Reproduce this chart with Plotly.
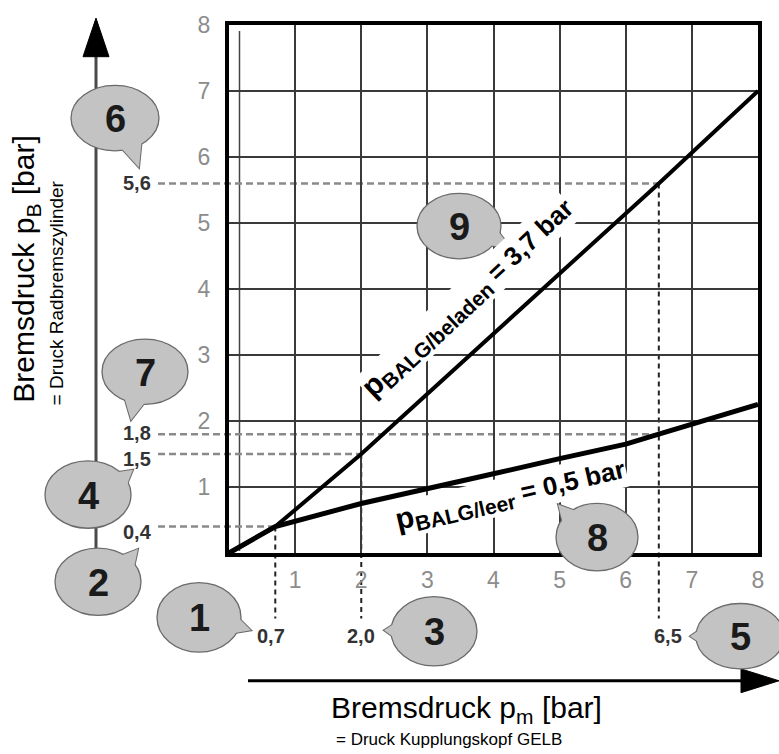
import math
import plotly.graph_objects as go

# ---------------- data ----------------
x_beladen = [0.0, 0.7, 2.0, 6.5, 8.0]
y_beladen = [0.0, 0.4, 1.5, 5.6, 7.0]
x_leer = [0.0, 0.7, 2.0, 3.0, 4.0, 5.0, 6.0, 6.5, 7.0, 8.0]
y_leer = [0.0, 0.4, 0.75, 0.97, 1.2, 1.43, 1.65, 1.8, 1.95, 2.25]
tick_vals = [1, 2, 3, 4, 5, 6, 7, 8]
tick_text = ["1", "2", "3", "4", "5", "6", "7", "8"]
# reading values on the pm axis (vertical dashed lines)
read_pm = [0.7, 2.0, 6.5]
read_pm_text = ["0,7", "2,0", "6,5"]
read_pm_pb = [0.4, 1.5, 5.6]
# reading values on the pB axis (horizontal dashed lines)
read_pb = [5.6, 1.8, 1.5, 0.4]
read_pb_text = ["5,6", "1,8", "1,5", "0,4"]
read_pb_pm = [6.5, 6.5, 2.0, 0.7]
label_beladen = ("<span style='font-size:30px'>p</span><sub><span style='font-size:21px'>BALG/beladen</span></sub>"
                 " = 3,7 bar")
label_leer = ("<span style='font-size:30px'>p</span><sub><span style='font-size:21px'>BALG/leer</span></sub>"
              " = 0,5 bar")

# ---------------- layout helpers ----------------
W, H = 779, 754
ML, MR, MT, MB = 229, 21, 20, 201
PW, PH = W - ML - MR, H - MT - MB
XR, YR = [0, 8], [0, 8]
FONT = "Arial, Liberation Sans, sans-serif"


def fx(v):
    return (v - XR[0]) / (XR[1] - XR[0])


def fy(v):
    return (v - YR[0]) / (YR[1] - YR[0])


def px(p):
    return (p - ML) / PW


def py(p):
    return (H - MB - p) / PH


fig = go.Figure()
fig.add_trace(go.Scatter(x=x_beladen, y=y_beladen, mode="lines",
                         line=dict(color="black", width=4), hoverinfo="skip"))
fig.add_trace(go.Scatter(x=x_leer, y=y_leer, mode="lines",
                         line=dict(color="black", width=5), hoverinfo="skip"))

shapes = []
# thin inner line next to the left frame
shapes.append(dict(type="line", xref="paper", yref="paper", x0=px(239.5), x1=px(239.5),
                   y0=py(551), y1=py(26), line=dict(color="#444", width=1.5), layer="below"))
# dashed reading lines
for yv, xe in zip(read_pb, read_pb_pm):
    shapes.append(dict(type="line", xref="paper", yref="paper", x0=px(158), x1=fx(xe),
                       y0=fy(yv), y1=fy(yv), layer="below",
                       line=dict(color="#8a8a8a", width=2.5, dash="7px,4px")))
for xv, ys in zip(read_pm, read_pm_pb):
    shapes.append(dict(type="line", xref="paper", yref="paper", x0=fx(xv), x1=fx(xv),
                       y0=fy(ys), y1=py(619), layer="below",
                       line=dict(color="#222", width=2, dash="5px,4px")))
# left (vertical) axis arrow
shapes.append(dict(type="line", xref="paper", yref="paper", x0=px(96), x1=px(96),
                   y0=py(548), y1=py(50), line=dict(color="#4a4a4a", width=3)))
shapes.append(dict(type="path", xref="paper", yref="paper",
                   path=f"M {px(96)},{py(13)} L {px(83)},{py(52)} L {px(109)},{py(52)} Z",
                   fillcolor="black", line=dict(color="black", width=1)))
# bottom (horizontal) axis arrow
shapes.append(dict(type="line", xref="paper", yref="paper", x0=px(248), x1=px(745),
                   y0=py(682), y1=py(682), line=dict(color="black", width=3)))
shapes.append(dict(type="path", xref="paper", yref="paper",
                   path=f"M {px(779)},{py(682)} L {px(741)},{py(670)} L {px(741)},{py(694)} Z",
                   fillcolor="black", line=dict(color="black", width=1)))

# speech bubbles (label, cx, cy, rx, ry, tipx, tipy) in pixels
bubbles = [
    ("6", 115, 114, 44, 33, 139, 164),
    ("7", 145, 370, 43, 33, 131, 419),
    ("4", 88, 494, 43, 34, 133, 469),
    ("2", 98, 582, 43, 34, 138, 549),
    ("1", 199, 618, 42, 35, 251, 631),
    ("3", 434, 632, 43, 35, 384, 631),
    ("5", 740, 637, 44, 33, 690, 637),
    ("8", 597, 537, 41, 34, 558, 504),
    ("9", 459, 223, 42, 33, 511, 245),
]
BFILL, BLINE = "#c3c3c3", "#6a6a6a"
annotations = []
for lab, cx, cy, rx, ry, tx, ty in bubbles:
    ang = math.atan2(ty - cy, tx - cx)
    pts = []
    for d in (-0.32, 0.32):
        a = ang + d
        pts.append((cx + 0.88 * rx * math.cos(a), cy + 0.88 * ry * math.sin(a)))
    tail = (f"M {px(pts[0][0])},{py(pts[0][1])} L {px(tx)},{py(ty)} "
            f"L {px(pts[1][0])},{py(pts[1][1])} Z")
    shapes.append(dict(type="path", xref="paper", yref="paper", path=tail,
                       fillcolor=BFILL, line=dict(color=BLINE, width=2)))
    shapes.append(dict(type="circle", xref="paper", yref="paper",
                       x0=px(cx - rx), x1=px(cx + rx), y0=py(cy + ry), y1=py(cy - ry),
                       fillcolor=BFILL, line=dict(color=BLINE, width=1.3)))
    shapes.append(dict(type="path", xref="paper", yref="paper", path=tail,
                       fillcolor=BFILL, line=dict(width=0)))
    annotations.append(dict(xref="paper", yref="paper", x=px(cx), y=py(cy + 1), text=f"<b>{lab}</b>",
                            showarrow=False, font=dict(family=FONT, size=38, color="#1a1a1a"),
                            xanchor="center", yanchor="middle"))

# reading labels
pb_shift = {"5,6": 0, "1,8": 1, "1,5": -5, "0,4": -5}
for yv, t in zip(read_pb, read_pb_text):
    annotations.append(dict(xref="paper", yref="y", x=px(137), y=yv, text=f"<b>{t}</b>",
                            showarrow=False, font=dict(family=FONT, size=20, color="#333"),
                            xanchor="center", yanchor="middle", yshift=pb_shift[t]))
for xv, t in zip(read_pm, read_pm_text):
    annotations.append(dict(xref="x", yref="paper", x=xv, y=py(637), text=f"<b>{t}</b>",
                            showarrow=False, font=dict(family=FONT, size=20, color="#333"),
                            xanchor="center", yanchor="middle",
                            xshift=(-4 if t == "0,7" else (9 if t == "6,5" else 0))))

# curve labels
annotations.append(dict(xref="paper", yref="paper", x=px(468), y=py(296), text=f"<b>{label_beladen}</b>",
                        textangle=-43, showarrow=False, bgcolor="white", borderpad=0,
                        xanchor="center", yanchor="middle",
                        font=dict(family=FONT, size=26, color="black")))
annotations.append(dict(xref="paper", yref="paper", x=px(510), y=py(494), text=f"<b>{label_leer}</b>",
                        textangle=-13, showarrow=False, bgcolor="white", borderpad=0,
                        xanchor="center", yanchor="middle",
                        font=dict(family=FONT, size=26, color="black")))

# axis titles
annotations.append(dict(xref="paper", yref="paper", x=px(466), y=py(711),
                        text="Bremsdruck p<sub>m</sub> [bar]", showarrow=False,
                        font=dict(family=FONT, size=30, color="black"),
                        xanchor="center", yanchor="middle"))
annotations.append(dict(xref="paper", yref="paper", x=px(334), y=py(741),
                        text="= Druck Kupplungskopf GELB", showarrow=False,
                        font=dict(family=FONT, size=17, color="black"),
                        xanchor="left", yanchor="middle"))
annotations.append(dict(xref="paper", yref="paper", x=px(26), y=py(267),
                        text="Bremsdruck p<sub>B</sub> [bar]", showarrow=False, textangle=-90,
                        font=dict(family=FONT, size=30, color="black"),
                        xanchor="center", yanchor="middle"))
annotations.append(dict(xref="paper", yref="paper", x=px(56), y=py(291),
                        text="= Druck Radbremszylinder", showarrow=False, textangle=-90,
                        font=dict(family=FONT, size=19, color="black"),
                        xanchor="center", yanchor="middle"))

axis_common = dict(range=XR, tickvals=tick_vals, ticktext=tick_text, showgrid=True,
                   gridcolor="#3a3a3a", gridwidth=1.5, zeroline=False, showline=True,
                   linecolor="black", linewidth=4, mirror=True, ticks="",
                   tickfont=dict(family=FONT, size=23, color="#8c8c8c"), fixedrange=True)

fig.update_layout(
    width=W, height=H, margin=dict(l=ML, r=MR, t=MT, b=MB),
    paper_bgcolor="white", plot_bgcolor="white", showlegend=False,
    xaxis=dict(axis_common, ticklabelstandoff=3),
    yaxis=dict(axis_common, range=YR, ticklabelstandoff=10),
    shapes=shapes, annotations=annotations,
)

fig.write_html("out.html", config={"displayModeBar": False},
               post_script="document.body.style.margin='0px';")
